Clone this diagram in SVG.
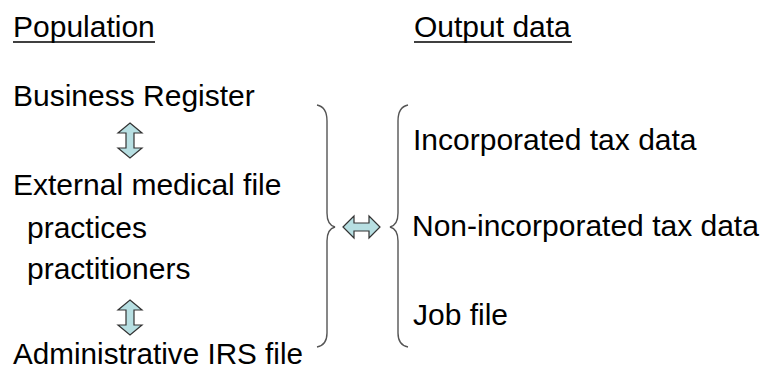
<svg xmlns="http://www.w3.org/2000/svg" width="760" height="369" viewBox="0 0 760 369">
<style>
text{font-family:"Liberation Sans",Arial,sans-serif;font-size:30px;fill:#000}
.ul{stroke:#000;stroke-width:1.6}
.arr{fill:#b7dfe2;stroke:#333;stroke-width:1.2;stroke-linejoin:miter}
.brace{fill:none;stroke:#555;stroke-width:1.4}
</style>
<rect width="760" height="369" fill="#fff"/>
<g id="population-heading"><text x="13" y="37">Population</text><line class="ul" x1="13" y1="42" x2="155" y2="42"/></g>
<g id="output-heading"><text x="414" y="37">Output data</text><line class="ul" x1="414" y1="42" x2="572" y2="42"/></g>
<g id="business-register"><text x="13" y="106">Business Register</text></g>
<g id="external-medical-file"><text x="13" y="195">External medical file</text><text x="27" y="238">practices</text><text x="27" y="279">practitioners</text></g>
<g id="administrative-irs-file"><text x="13" y="364" textLength="290" lengthAdjust="spacingAndGlyphs">Administrative IRS file</text></g>
<g id="incorporated"><text x="413" y="150">Incorporated tax data</text></g>
<g id="non-incorporated"><text x="412" y="236">Non-incorporated tax data</text></g>
<g id="job-file"><text x="413" y="325">Job file</text></g>
<g id="connectors">
<polygon class="arr" points="130,123 142,133 134,133 134,148 142,148 130,158 118,148 126,148 126,133 118,133"/>
<polygon class="arr" points="130,300 142,310 134,310 134,325 142,325 130,335 118,325 126,325 126,310 118,310"/>
<polygon class="arr" points="343,227 354,216 354,223 369,223 369,216 380,227 369,238 369,231 354,231 354,238"/>
<path class="brace" d="M317,105 Q327,107 327,121 L327,213 Q327,225 335,227 Q327,229 327,241 L327,333 Q327,345 317,347"/>
<path class="brace" d="M408,105 Q398,107 398,121 L398,213 Q398,225 390,227 Q398,229 398,241 L398,333 Q398,345 408,347"/>
</g>
</svg>
